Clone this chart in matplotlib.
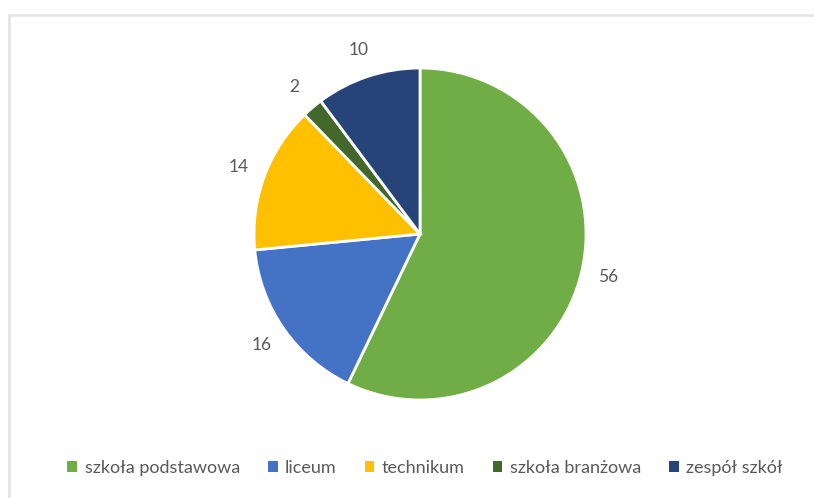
import matplotlib
matplotlib.use("Agg")
import matplotlib.pyplot as plt
from matplotlib.patches import Rectangle, Patch

categories = ["szkoła podstawowa", "liceum", "technikum", "szkoła branżowa", "zespół szkół"]
values = [56, 16, 14, 2, 10]
colors = ["#70AD47", "#4472C4", "#FFC000", "#43682B", "#264478"]

plt.rcParams['font.family'] = ['Lato', 'DejaVu Sans']

W, H = 814, 498
fig = plt.figure(figsize=(W / 100, H / 100), dpi=100)
fig.patch.set_facecolor("white")

# light frame
fig.patches.append(Rectangle((9 / W, -0.1), 1.2, (H - 15) / H + 0.1, transform=fig.transFigure,
                             fill=False, edgecolor="#e3e3e3", linewidth=1.8, zorder=0))

ax = fig.add_axes([0, 0, 1, 1])

wedges, texts = ax.pie(values, colors=colors, startangle=90, counterclock=False,
                       center=(420, H - 234), radius=166, frame=False,
                       labels=[str(v) for v in values], labeldistance=1.165,
                       wedgeprops=dict(edgecolor="white", linewidth=2),
                       textprops=dict(color="#595959", fontsize=12.5))
for t in texts:
    t.set_horizontalalignment("center")
    t.set_verticalalignment("center")
ax.set_xlim(0, W)
ax.set_ylim(0, H)
ax.set_aspect("equal")
ax.axis("off")

handles = [Patch(facecolor=c, edgecolor="none") for c in colors]
leg = fig.legend(handles, categories, loc="center", bbox_to_anchor=(425 / W, 1 - 468 / H),
                 ncol=5, frameon=False, fontsize=13, handlelength=0.55, handleheight=0.55,
                 handletextpad=0.4, columnspacing=1.55, labelcolor="#595959")

fig.savefig("out.png", dpi=100)
